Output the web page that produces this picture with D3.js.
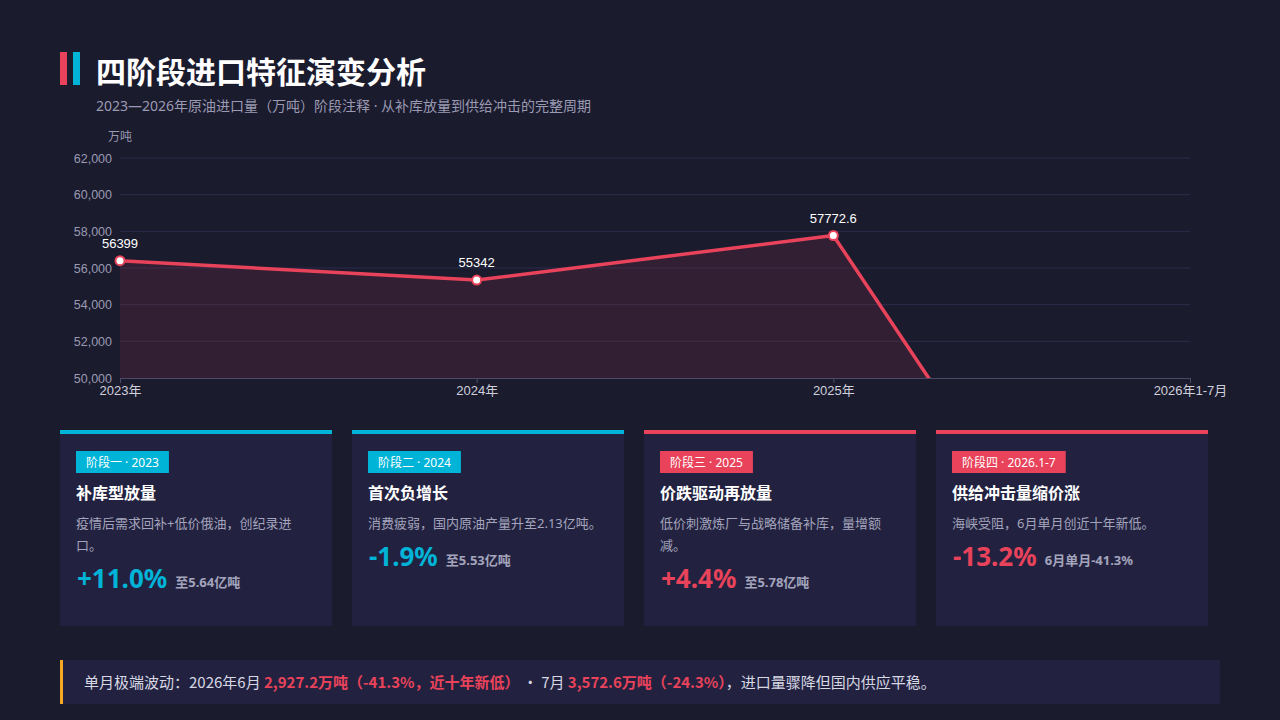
<!DOCTYPE html>
<html><head><meta charset="utf-8">
<script src="https://cdn.jsdelivr.net/npm/d3@7"></script>
<style>
html,body{margin:0;padding:0;background:#1b1b2e;}
svg{display:block;font-family:"Noto Sans","Noto Sans CJK SC",sans-serif;}
</style></head>
<body>
<svg id="chart" width="1280" height="720"></svg>
<script>
const categories = ["2023年", "2024年", "2025年", "2026年1-7月"];
const values = [56399, 55342, 57772.6, 28700];
const valueLabels = ["56399", "55342", "57772.6", ""];
const yTicks = [50000, 52000, 54000, 56000, 58000, 60000, 62000];

const stageTags = ["阶段一 · 2023", "阶段二 · 2024", "阶段三 · 2025", "阶段四 · 2026.1-7"];
const stageTitles = ["补库型放量", "首次负增长", "价跌驱动再放量", "供给冲击量缩价涨"];
const stageDescs = [["疫情后需求回补+低价俄油，创纪录进", "口。"], ["消费疲弱，国内原油产量升至2.13亿吨。"], ["低价刺激炼厂与战略储备补库，量增额", "减。"], ["海峡受阻，6月单月创近十年新低。"]];
const stageChanges = ["+11.0%", "-1.9%", "+4.4%", "-13.2%"];
const stageNotes = ["至5.64亿吨", "至5.53亿吨", "至5.78亿吨", "6月单月-41.3%"];
const stageColors = ["#00b4d8", "#00b4d8", "#e8435a", "#e8435a"];

const RED = "#e8435a", CYAN = "#00b4d8";
const svg = d3.select("#chart");
svg.append("rect").attr("width", 1280).attr("height", 720).attr("fill", "#1b1b2e");

// Title
svg.append("rect").attr("x", 60).attr("y", 52).attr("width", 7).attr("height", 33).attr("fill", RED);
svg.append("rect").attr("x", 73).attr("y", 52).attr("width", 7).attr("height", 33).attr("fill", CYAN);
svg.append("text").attr("x", 96).attr("y", 83).attr("fill", "#ffffff").attr("font-size", 30).attr("font-weight", 700)
  .text("四阶段进口特征演变分析");
svg.append("text").attr("x", 96).attr("y", 111).attr("fill", "#9a9ab2").attr("font-size", 14)
  .text("2023—2026年原油进口量（万吨）阶段注释 · 从补库放量到供给冲击的完整周期");

// Chart
const x = d3.scalePoint().domain(categories).range([120, 1190]);
const y = d3.scaleLinear().domain([50000, 62000]).range([378, 158]);
const g = svg.append("g");

g.append("text").attr("x", 120).attr("y", 141).attr("text-anchor", "middle").attr("fill", "#9a9ab2")
  .attr("font-size", 12).text("万吨");

g.selectAll("line.grid").data(yTicks.slice(1)).enter().append("line")
  .attr("x1", 120).attr("x2", 1190).attr("y1", d => y(d)).attr("y2", d => y(d))
  .attr("stroke", "#2c2b4a").attr("stroke-width", 1);

const yAxis = g.append("g").attr("transform", "translate(120,0)")
  .call(d3.axisLeft(y).tickValues(yTicks).tickFormat(d3.format(",")).tickSize(0).tickPadding(8));
yAxis.select(".domain").remove();
yAxis.selectAll("text").attr("fill", "#9a9ab2").attr("font-size", 12.5).attr("font-family", "Liberation Sans, Arial, sans-serif");

const defs = svg.append("defs");
defs.append("clipPath").attr("id", "plotClip").append("rect").attr("x", 110).attr("y", 100).attr("width", 1090).attr("height", 279);

const pts = categories.map((c, i) => ({c, v: values[i], l: valueLabels[i]}));
const area = d3.area().x(d => x(d.c)).y0(y(50000)).y1(d => y(d.v));
const line = d3.line().x(d => x(d.c)).y(d => y(d.v));
const plot = g.append("g").attr("clip-path", "url(#plotClip)");
plot.append("path").datum(pts).attr("d", area).attr("fill", RED).attr("fill-opacity", 0.12);
plot.append("path").datum(pts).attr("d", line).attr("fill", "none").attr("stroke", RED).attr("stroke-width", 3.5)
  .attr("stroke-linejoin", "round");

const xAxis = g.append("g").attr("transform", "translate(0,378)")
  .call(d3.axisBottom(x).tickSize(5).tickPadding(3));
xAxis.select(".domain").attr("stroke", "#4a4a68");
xAxis.selectAll(".tick line").attr("stroke", "#4a4a68");
xAxis.selectAll("text").attr("fill", "#d0d0dc").attr("font-size", 13).attr("font-family", "Liberation Sans, Noto Sans CJK SC, sans-serif");

plot.selectAll("circle").data(pts).enter().append("circle")
  .attr("cx", d => x(d.c)).attr("cy", d => y(d.v)).attr("r", 4.5)
  .attr("fill", "#ffffff").attr("stroke", RED).attr("stroke-width", 2);
g.selectAll("text.vl").data(pts).enter().append("text").attr("class", "vl")
  .attr("x", d => x(d.c)).attr("y", d => y(d.v) - 13).attr("text-anchor", "middle")
  .attr("fill", "#ffffff").attr("font-size", 13).attr("font-family", "Liberation Sans, Arial, sans-serif")
  .text(d => d.l);

// Cards
const cardX = d3.scaleBand().domain(d3.range(4)).range([60, 1208]).paddingInner(20 / 292).paddingOuter(0);
stageTags.forEach((tag, i) => {
  const cx = cardX(i), cw = cardX.bandwidth();
  const c = svg.append("g").attr("transform", `translate(${cx},430)`);
  c.append("rect").attr("width", cw).attr("height", 196).attr("fill", "#222240");
  c.append("rect").attr("width", cw).attr("height", 4).attr("fill", stageColors[i]);
  const t = c.append("text").attr("x", 26).attr("y", 36.5).attr("fill", "#ffffff").attr("font-size", 12)
    .attr("text-anchor", "start").text(tag);
  const tw = t.node().getComputedTextLength();
  c.insert("rect", "text").attr("x", 16).attr("y", 21).attr("width", tw + 20).attr("height", 22).attr("fill", stageColors[i]);
  c.append("text").attr("x", 16).attr("y", 69).attr("fill", "#ffffff").attr("font-size", 16).attr("font-weight", 700)
    .text(stageTitles[i]);
  stageDescs[i].forEach((ln, j) => {
    c.append("text").attr("x", 16).attr("y", 98 + j * 22).attr("fill", "#a4a4bc").attr("font-size", 13).text(ln);
  });
  const by = 98 + (stageDescs[i].length - 1) * 22 + 38;
  const p = c.append("text").attr("x", 17).attr("y", by).attr("fill", stageColors[i]).attr("font-size", 26)
    .attr("font-weight", 700).text(stageChanges[i]);
  const pw = p.node().getComputedTextLength();
  c.append("text").attr("x", 17 + pw + 8).attr("y", by - 1).attr("fill", "#a4a4bc").attr("font-size", 13)
    .attr("font-weight", 700).text(stageNotes[i]);
});

// Bottom note
const bottomParts = [
  {t: "单月极端波动：2026年6月 ", c: "#d8d8e4", b: 400},
  {t: "2,927.2万吨（-41.3%，近十年新低）", c: RED, b: 700},
  {t: " · 7月 ", c: "#d8d8e4", b: 400},
  {t: "3,572.6万吨（-24.3%）", c: RED, b: 700},
  {t: "，进口量骤降但国内供应平稳。", c: "#d8d8e4", b: 400}
];
svg.append("rect").attr("x", 60).attr("y", 660).attr("width", 1160).attr("height", 44).attr("fill", "#222240");
svg.append("rect").attr("x", 60).attr("y", 660).attr("width", 3).attr("height", 44).attr("fill", "#f5a623");
const bt = svg.append("text").attr("x", 84).attr("y", 688).attr("font-size", 15)
  .attr("font-family", "Noto Sans CJK SC, sans-serif");
bt.selectAll("tspan").data(bottomParts).enter().append("tspan")
  .attr("fill", d => d.c).attr("font-weight", d => d.b).text(d => d.t);
</script>
</body></html>
